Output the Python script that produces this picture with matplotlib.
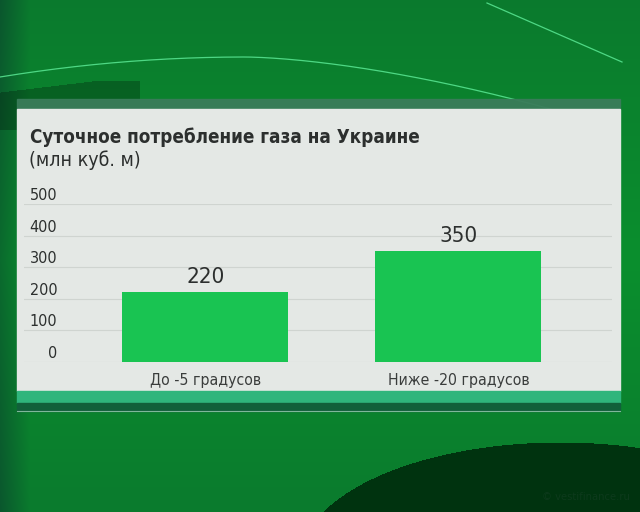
import numpy as np
import matplotlib
matplotlib.use("Agg")
import matplotlib.pyplot as plt
from matplotlib import transforms
from matplotlib.patches import Rectangle

# ---- data ----
categories = ["До -5 градусов", "Ниже -20 градусов"]
values = [220, 350]
value_labels = ["220", "350"]
yticks = [0, 100, 200, 300, 400, 500]
title = "Суточное потребление газа на Украине"
subtitle = "(млн куб. м)"
credit = "© vestifinance.ru"

W, H = 640, 512
fig = plt.figure(figsize=(W / 100, H / 100), dpi=100)

FONT = dict(family="DejaVu Sans", stretch="condensed")

def px(x0, y0, x1, y1):
    """pixel box (top-left origin) -> figure rect"""
    return [x0 / W, 1 - y1 / H, (x1 - x0) / W, (y1 - y0) / H]

# ---- background (decorative green gradient) ----
bg = fig.add_axes([0, 0, 1, 1])
bg.set_axis_off()
yy, xx = np.mgrid[0:H, 0:W].astype(float)
img = np.zeros((H, W, 3))
g = 0.56 - 0.08 * (np.abs(yy - 260) / 260) - 0.14 * np.clip((30 - xx) / 30, 0, 1)
img[..., 0] = 0.04
img[..., 1] = g
img[..., 2] = 0.18
# dark dome in lower right
dome = ((xx - 560) / 260) ** 2 + ((yy - 560) / 118) ** 2 < 1
img[dome] = [0.0, 0.20, 0.06]
# subtle darker slab top-left
slab = (yy > 92 - 0.12 * xx) & (yy < 130) & (xx < 140) & (yy > 80)
img[slab] = img[slab] * 0.75
bg.imshow(img, extent=[0, W, H, 0], aspect="auto")
xs = np.linspace(0, 560, 300)
ys = 57 + 20 * ((xs - 245) / 245) ** 2
ys = np.where(xs > 245, 57 + 51 * ((xs - 245) / 302) ** 1.6, ys)
bg.plot(xs, ys, color="#5ae894", lw=0.9, alpha=0.85)
bg.plot([487, 622], [3, 62], color="#5ae894", lw=0.9, alpha=0.85)
bg.set_xlim(0, W)
bg.set_ylim(H, 0)

# ---- panel ----
bg.add_patch(Rectangle((17, 99), 603, 10, color="#3a7c5a", alpha=0.95, zorder=2))
bg.add_patch(Rectangle((17, 109), 603, 282, color="#e4e8e5", zorder=2))
bg.add_patch(Rectangle((17, 391), 603, 12, color="#2fb57c", zorder=2))
bg.add_patch(Rectangle((17, 403), 603, 8, color="#11603a", zorder=2))
bg.plot([17, 620], [411, 411], color="#7fb79a", lw=0.8, zorder=2)

fig.text(30 / W, 1 - 137 / H, title, fontsize=13.5, color="#2c2f2e", va="center",
         ha="left", fontweight="bold", **FONT)
fig.text(29 / W, 1 - 160 / H, subtitle, fontsize=14, color="#2c2f2e", va="center",
         ha="left", **FONT)
fig.text(630 / W, 1 - 497 / H, credit, fontsize=8, color="#0d3a1c", va="center",
         ha="right", **FONT)

# ---- bar chart ----
ax = fig.add_axes(px(24, 204, 612, 361.7))
ax.set_facecolor("none")
x = np.arange(len(categories))
ax.bar(x, values, width=0.656, color="#19c452", zorder=3)
ax.set_xlim(-0.717, 1.607)
ax.set_ylim(0, 500)
ax.set_yticks(yticks)
ax.set_yticklabels([str(v) for v in yticks])
ax.yaxis.grid(True, color="#cfd4d0", lw=0.8)
ax.set_axisbelow(True)
for s in ax.spines.values():
    s.set_visible(False)
ax.tick_params(axis="y", length=0, pad=-24, labelsize=11.5, labelcolor="#2c2f2e")
off = transforms.ScaledTranslation(0, 10 / 100, fig.dpi_scale_trans)
for lab in ax.get_yticklabels():
    lab.set_transform(lab.get_transform() + off)
    lab.set_horizontalalignment("right")
    lab.set_fontstretch("condensed")
ax.set_xticks(x)
ax.set_xticklabels(categories)
ax.tick_params(axis="x", length=0, pad=8, labelsize=11.3, labelcolor="#3a3d3c")
for lab in ax.get_xticklabels():
    lab.set_fontstretch("condensed")

for xi, v, s in zip(x, values, value_labels):
    ax.annotate(s, (xi, v), xytext=(0, 4), textcoords="offset points",
                ha="center", va="bottom", fontsize=16, color="#2c2f2e", **FONT)

fig.savefig("out.png", dpi=100)
